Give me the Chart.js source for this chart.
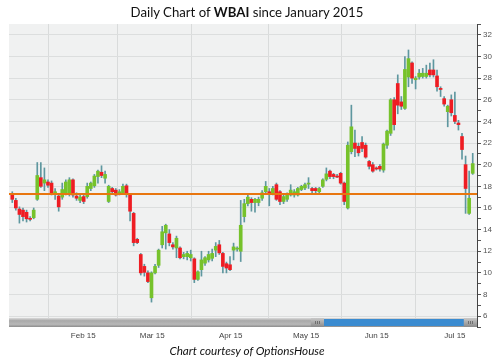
<!DOCTYPE html>
<html>
<head>
<meta charset="utf-8">
<script src="https://cdn.jsdelivr.net/npm/chart.js@4"></script>
<style>
  body { margin: 0; background: #fff; }
  #wrap { position: relative; width: 494px; height: 364px; }
  #title { position: absolute; top: 4px; left: 0; width: 494px; text-align: center; font: 13.2px Lato; color: #111; }
  #caption { position: absolute; top: 343px; left: 0; width: 494px; text-align: center; font: italic 11.7px Lato; color: #111; }
</style>
</head>
<body>
<div id="wrap">
  <canvas id="chart" width="494" height="364"></canvas>
  <div id="title">Daily Chart of <b>WBAI</b> since January 2015</div>
  <div id="caption">Chart courtesy of OptionsHouse</div>
</div>
<script>
// daily candles, one per trading day (index 0 = first session shown)
const opens = [17.3, 16.7, 15.9, 15.8, 15.6, 15.0, 15.1, 16.8, 18.8, 18.3,
  18.4, 18.3, 17.3, 17.1, 17.0, 17.4, 17.3, 18.6, 17.1, 16.7,
  17.05, 17.05, 17.8, 18.05, 18.9, 19.3, 18.75, 16.6, 17.8, 17.65,
  17.3, 17.4, 18.05, 17.2, 15.5, 13.1, 11.7, 10.6, 10.0, 7.7,
  10.0, 10.7, 12.6, 13.7, 13.6, 12.6, 12.3, 12.3, 11.5, 11.5,
  11.4, 11.3, 9.4, 10.3, 10.9, 11.2, 11.35, 12.1, 12.6, 11.8,
  10.85, 10.75, 12.1, 12.2, 12.0, 15.2, 16.4, 16.8, 16.5, 16.5,
  16.9, 17.5, 17.5, 17.4, 18.15, 17.5, 16.6, 16.8, 17.2, 17.2,
  17.2, 17.7, 17.85, 18.2, 17.8, 17.8, 17.5, 18.0, 18.65, 19.4,
  19.1, 18.95, 19.2, 18.3, 16.0, 21.2, 22.0, 21.7, 22.05, 21.8,
  20.3, 20.0, 19.7, 19.85, 19.5, 21.8, 22.9, 26.0, 27.5, 25.8,
  25.2, 28.1, 29.4, 27.85, 28.1, 28.15, 28.15, 28.75, 28.75, 28.2,
  27.05, 26.1, 24.9, 26.0, 24.55, 23.85, 22.6, 20.0, 15.5, 19.2];
const highs = [17.5, 16.9, 16.1, 16.0, 15.8, 15.2, 16.0, 20.2, 20.2, 19.7,
  18.6, 18.5, 17.8, 17.3, 18.3, 18.6, 18.8, 18.7, 17.4, 17.2,
  17.2, 18.3, 18.4, 19.1, 19.5, 19.9, 19.4, 18.1, 17.9, 17.8,
  17.7, 18.2, 18.2, 17.3, 15.6, 13.2, 11.8, 10.8, 10.2, 10.1,
  10.8, 12.2, 14.3, 14.5, 14.0, 12.8, 13.4, 12.4, 11.9, 12.0,
  12.1, 11.4, 10.2, 12.0, 11.5, 12.0, 12.2, 12.8, 13.0, 11.9,
  11.0, 11.5, 12.75, 12.4, 16.7, 16.8, 17.2, 16.95, 16.9, 17.0,
  17.6, 18.45, 17.8, 18.0, 18.3, 17.6, 17.2, 17.4, 18.15, 17.7,
  17.9, 18.1, 18.3, 18.8, 17.9, 17.9, 17.9, 18.7, 19.7, 19.5,
  19.2, 19.1, 19.3, 18.4, 22.1, 25.5, 23.2, 22.0, 22.6, 22.0,
  20.4, 20.2, 19.8, 20.0, 22.0, 23.2, 26.1, 26.2, 28.3, 26.3,
  30.0, 30.6, 29.5, 28.15, 28.8, 28.9, 29.2, 29.4, 29.7, 28.75,
  27.2, 26.3, 25.5, 26.45, 26.7, 24.1, 22.9, 20.8, 19.4, 21.05];
const lows = [16.5, 15.8, 14.6, 14.8, 14.7, 14.8, 15.0, 16.7, 17.9, 17.6,
  17.9, 17.2, 16.8, 15.7, 16.8, 17.2, 17.1, 17.0, 16.7, 16.5,
  16.4, 16.9, 17.6, 17.9, 18.3, 18.8, 18.3, 16.5, 17.3, 17.1,
  17.2, 17.3, 17.0, 14.8, 12.5, 12.7, 9.8, 9.7, 9.1, 7.3,
  9.9, 10.5, 12.3, 12.2, 12.5, 12.2, 11.4, 11.3, 11.3, 11.2,
  11.1, 9.1, 9.3, 9.7, 10.7, 11.0, 11.1, 11.5, 11.7, 10.0,
  10.0, 10.2, 11.2, 12.0, 11.05, 14.7, 16.2, 15.7, 15.6, 16.2,
  16.7, 17.3, 16.2, 17.2, 16.7, 16.3, 16.4, 16.6, 17.1, 17.0,
  17.1, 17.6, 17.7, 17.8, 17.3, 17.4, 17.3, 17.9, 18.5, 18.7,
  18.7, 18.8, 18.2, 16.3, 15.9, 21.0, 20.75, 20.8, 21.2, 20.6,
  19.6, 19.3, 19.5, 19.4, 19.3, 21.5, 22.7, 23.2, 24.7, 25.1,
  25.1, 27.2, 27.5, 27.0, 27.9, 28.0, 28.0, 28.1, 28.1, 26.8,
  26.3, 25.4, 23.5, 24.5, 23.8, 23.2, 20.5, 15.5, 15.4, 19.1];
const closes = [16.8, 16.0, 15.4, 15.2, 15.0, 14.95, 15.8, 19.0, 18.0, 18.6,
  18.1, 17.4, 17.5, 16.1, 17.7, 18.4, 18.6, 17.2, 16.9, 17.0,
  16.6, 18.0, 18.3, 18.95, 19.4, 19.0, 19.1, 18.0, 17.5, 17.2,
  17.5, 18.0, 17.4, 15.7, 12.8, 12.8, 10.0, 10.05, 9.2, 10.0,
  10.6, 12.1, 13.8, 14.4, 12.8, 12.4, 13.2, 11.4, 11.7, 11.8,
  11.7, 9.4, 10.1, 11.2, 11.4, 11.7, 11.8, 12.45, 11.85, 10.6,
  10.45, 10.3, 12.4, 12.25, 14.4, 16.4, 17.0, 16.5, 16.8, 16.8,
  17.4, 18.0, 17.3, 17.8, 16.8, 16.6, 17.05, 17.2, 17.65, 17.5,
  17.8, 18.0, 18.15, 18.3, 17.6, 17.6, 17.8, 18.6, 19.15, 18.9,
  18.9, 18.85, 18.3, 16.6, 21.8, 23.5, 21.5, 21.1, 21.5, 20.7,
  19.85, 19.4, 19.6, 19.6, 21.9, 23.1, 26.0, 23.7, 25.5, 25.4,
  28.8, 29.8, 28.0, 28.0, 28.45, 28.45, 28.45, 28.3, 28.3, 27.2,
  26.95, 25.6, 25.4, 24.8, 24.0, 23.7, 21.4, 17.8, 16.9, 20.1];

// month labels sit on the session nearest the 15th
const xTickPos = [19.9, 39.2, 61.2, 82.3, 102.1, 124.0];
const xTickLabels = ["Feb 15", "Mar 15", "Apr 15", "May 15", "Jun 15", "Jul 15"];
const xMin = -0.92, xMax = 130.2;
const yMin = 5, yMax = 33;
const levelValue = 17.3; // horizontal orange line

const upColor = "#76c22b";
const downColor = "#ee1d23";
const wickColor = "#5e979f";

const wickData = highs.map((h, i) => ({ x: i, y: [lows[i], h] }));
const bodyData = opens.map((o, i) => ({ x: i, y: [o, closes[i]] }));

// grey plot background
const plotBackground = {
  id: "plotBackground",
  beforeDraw(chart) {
    const a = chart.chartArea;
    const ctx = chart.ctx;
    ctx.save();
    ctx.fillStyle = "#f0f1f1";
    ctx.fillRect(a.left, a.top, a.right - a.left, a.bottom - a.top);
    ctx.restore();
  }
};

// navigator scrollbar along the bottom of the plot
const scrollBar = {
  id: "scrollBar",
  afterDatasetsDraw(chart) {
    const a = chart.chartArea;
    const ctx = chart.ctx;
    const w = a.right - a.left;
    const top = a.bottom - 9;
    ctx.save();
    let g = ctx.createLinearGradient(0, top, 0, a.bottom);
    g.addColorStop(0, "#dadada");
    g.addColorStop(0.3, "#a9a9a9");
    g.addColorStop(0.7, "#b8b8b8");
    g.addColorStop(1, "#8c8c8c");
    ctx.fillStyle = g;
    ctx.fillRect(a.left, top, w, 9);
    // selected range
    const s0 = a.left + 0.673 * w, s1 = a.left + 0.972 * w;
    ctx.fillStyle = "#3a8bd0";
    ctx.fillRect(s0, top + 1, s1 - s0, 7);
    // handles
    [[a.left + 0.645 * w, s0], [s1, a.right]].forEach(([h0, h1]) => {
      let hg = ctx.createLinearGradient(0, top, 0, a.bottom);
      hg.addColorStop(0, "#c8c8c8");
      hg.addColorStop(1, "#8a8a8a");
      ctx.fillStyle = hg;
      ctx.fillRect(h0, top, h1 - h0, 9);
      ctx.strokeStyle = "#6f6f6f";
      ctx.lineWidth = 1;
      const c = Math.round((h0 + h1) / 2);
      for (let k = -2; k <= 2; k += 2) {
        ctx.beginPath();
        ctx.moveTo(c + k + 0.5, top + 3);
        ctx.lineTo(c + k + 0.5, top + 6);
        ctx.stroke();
      }
    });
    ctx.restore();
  }
};

const ctx = document.getElementById("chart").getContext("2d");
const chart = new Chart(ctx, {
  type: "bar",
  data: {
    datasets: [
      {
        type: "line",
        data: [{ x: xMin, y: levelValue }, { x: xMax, y: levelValue }],
        borderColor: "#e8760f",
        borderWidth: 2,
        pointRadius: 0,
        order: 0
      },
      {
        data: bodyData,
        backgroundColor: (c) => {
          const i = c.dataIndex;
          return closes[i] >= opens[i] ? upColor : downColor;
        },
        barThickness: 3,
        minBarLength: 1,
        grouped: false,
        order: 1
      },
      {
        data: wickData,
        backgroundColor: wickColor,
        barThickness: 1,
        grouped: false,
        order: 2
      }
    ]
  },
  options: {
    responsive: false,
    animation: false,
    layout: { padding: { left: 9, top: 24, right: 0, bottom: 0 } },
    plugins: {
      legend: { display: false },
      tooltip: { enabled: false }
    },
    scales: {
      x: {
        type: "linear",
        min: xMin,
        max: xMax,
        offset: false,
        afterBuildTicks: (s) => { s.ticks = xTickPos.map((v) => ({ value: v })); },
        afterFit: (s) => { s.height = 37; },
        ticks: {
          autoSkip: false,
          maxRotation: 0,
          padding: 4,
          color: "#444",
          font: { family: "Liberation Sans", size: 8 },
          callback: (v, i) => xTickLabels[i]
        },
        grid: { color: "#d9dbdb", drawTicks: false },
        border: { display: false }
      },
      y: {
        position: "right",
        min: yMin,
        max: yMax,
        afterFit: (s) => { s.width = 17; },
        ticks: {
          stepSize: 1,
          autoSkip: false,
          padding: 2,
          color: "#555",
          font: { family: "Liberation Sans", size: 8 },
          callback: (v) => (v % 2 === 0 && v > yMin && v < yMax ? v : "")
        },
        grid: {
          color: (c) => (c.tick && c.tick.value % 2 === 0 ? "#dcdede" : "transparent"),
          tickColor: "#555",
          tickLength: 4
        },
        border: { display: true, color: "#444", width: 1 }
      }
    }
  },
  plugins: [plotBackground, scrollBar]
});
</script>
</body>
</html>
